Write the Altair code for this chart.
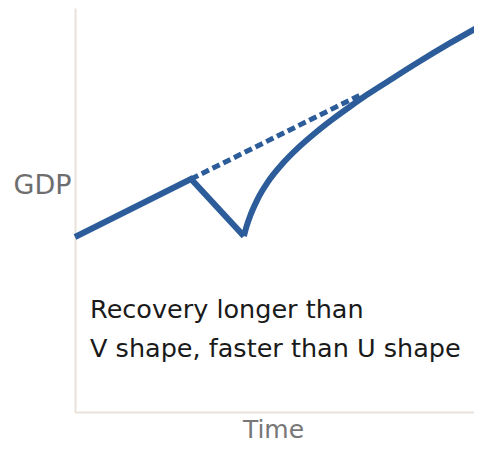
import altair as alt
import pandas as pd

# Pre-shock trend and sharp fall (time, GDP index)
drop_t = [0.0, 28.5, 41.5]
drop_g = [44.7, 58.7, 44.9]

# Recovery curve
rec_t = [41.5, 42.1, 43.2, 44.9, 47.4, 50.9, 54.8, 59.0, 63.4, 67.6, 72.0, 77.4, 84.0, 92.1, 100.0]
rec_g = [44.9, 47.1, 50.2, 53.9, 58.0, 62.3, 66.2, 69.8, 73.2, 76.2, 79.2, 82.6, 86.7, 91.5, 95.9]

# Counterfactual trend (dashed)
trend_t = [28.5, 70.5]
trend_g = [58.7, 79.2]

# Annotation
note_lines = ["Recovery longer than", "V shape, faster than U shape"]
note_t = [3.7, 3.7]
note_g = [25.1, 15.7]

COLOR = "#2c5c99"
FONT = "DejaVu Sans"

W, H = 399, 404

xs = alt.Scale(domain=[0, 98.03], nice=False, zero=False)
ys = alt.Scale(domain=[2.42, 100], nice=False, zero=False)

x_axis = alt.Axis(
    title="Time", labels=False, ticks=False, grid=False,
    domainColor="#e9e1da", domainWidth=2,
    titleFont=FONT, titleFontSize=25, titleFontWeight="normal", titleColor="#777777",
    titleX=198, titleY=25, titleBaseline="alphabetic", titleAlign="center",
)
y_axis = alt.Axis(
    title="GDP", labels=False, ticks=False, grid=False,
    domainColor="#e9e1da", domainWidth=2,
    titleFont=FONT, titleFontSize=27, titleFontWeight="normal", titleColor="#6e6e6e",
    titleAngle=0, titleAlign="right", titleBaseline="alphabetic",
    titleX=-4, titleY=185,
)

drop_df = pd.DataFrame({"t": drop_t, "g": drop_g})
rec_df = pd.DataFrame({"t": rec_t, "g": rec_g})
trend_df = pd.DataFrame({"t": trend_t, "g": trend_g})
note_df = pd.DataFrame({"t": note_t, "g": note_g, "txt": note_lines})

drop = alt.Chart(drop_df).mark_line(
    color=COLOR, strokeWidth=6, strokeJoin="miter", strokeCap="butt"
).encode(
    x=alt.X("t:Q", scale=xs, axis=x_axis),
    y=alt.Y("g:Q", scale=ys, axis=y_axis),
    order="t:Q",
)

rec = alt.Chart(rec_df).mark_line(
    color=COLOR, strokeWidth=6, interpolate="monotone", strokeCap="butt"
).encode(
    x=alt.X("t:Q", scale=xs),
    y=alt.Y("g:Q", scale=ys),
    order="t:Q",
)

trend = alt.Chart(trend_df).mark_line(
    color=COLOR, strokeWidth=5, strokeDash=[8, 4]
).encode(
    x=alt.X("t:Q", scale=xs),
    y=alt.Y("g:Q", scale=ys),
)

note = alt.Chart(note_df).mark_text(
    align="left", baseline="alphabetic", font=FONT, fontSize=25.5, color="#1a1a1a"
).encode(
    x=alt.X("t:Q", scale=xs),
    y=alt.Y("g:Q", scale=ys),
    text="txt:N",
)

chart = alt.layer(trend, drop, rec, note).properties(
    width=W,
    height=H,
    autosize=alt.AutoSizeParams(type="none"),
    padding={"left": 67, "top": 0, "right": 0, "bottom": 32},
    background="white",
).configure_view(stroke=None)

chart.save("out.html", embed_options={"renderer": "svg", "actions": False})
